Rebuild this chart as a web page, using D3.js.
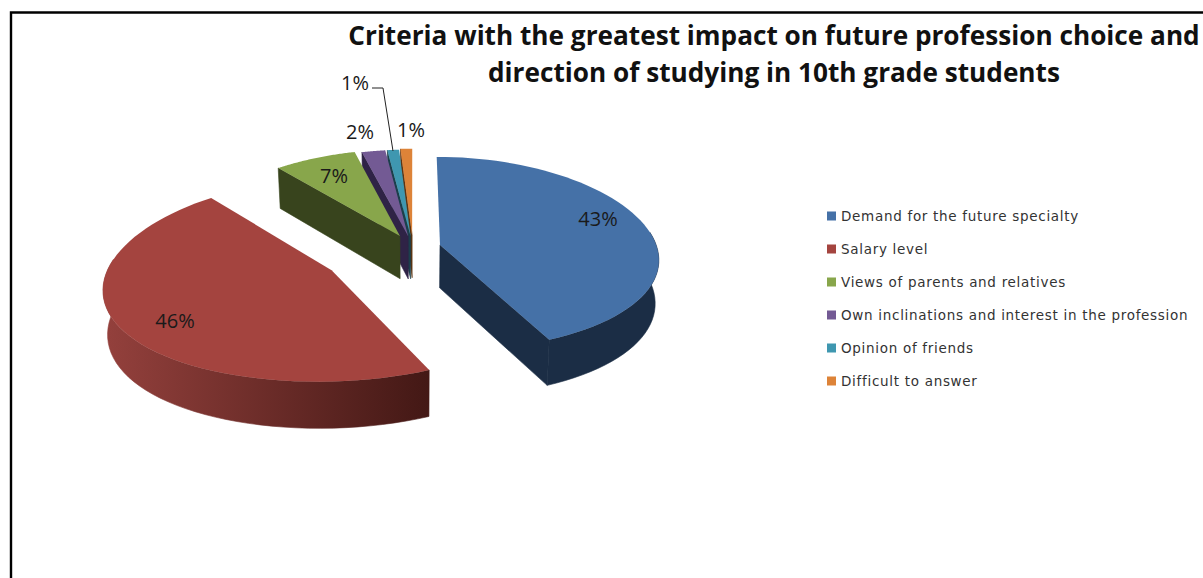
<!DOCTYPE html>
<html>
<head>
<meta charset="utf-8">
<script src="https://cdn.jsdelivr.net/npm/d3@7/dist/d3.min.js"></script>
<style>
  html, body { margin: 0; padding: 0; background: #fff; }
  svg { display: block; }
</style>
</head>
<body>
<svg id="chart" width="1203" height="578"></svg>
<script>
const categories = [
  "Demand for the future specialty",
  "Salary level",
  "Views of parents and relatives",
  "Own inclinations and interest in the profession",
  "Opinion of friends",
  "Difficult to answer"
];
const shares = [43, 46, 7, 2, 1, 1];
const titleLines = [
  "Criteria with the greatest impact on future profession choice and",
  "direction of studying in 10th grade students"
];
const explosion = [0.128, 0.43, 0.135, 0.12, 0.12, 0.13];
const topColors = ["#4571a7", "#a4443f", "#88a64b", "#735a94", "#3f97b0", "#dd8338"];
const sideColors = ["#1b2d45", "#4a1b17", "#38441d", "#2f2346", "#1b3f4c", "#5e3512"];
const drawOrder = [5, 4, 3, 2, 0, 1];

const labelSpots = [[598, 218], [175, 320], [334, 175], [360, 131], [355, 82], [411, 129]];
const leaderLine = [[372, 88], [383, 88], [393, 151]];

// Tilted-disc projection
const disc = { cx: 413, cy: 247.6, rx: 217, ry: 96.6, kx: 0.14, ky: 0.092 };
const depth = { base: 43, tilt: 3, shrink: 0.985 };

function project(x, y, z) {
  const sx = disc.cx + disc.rx * x / (1 - disc.kx * y);
  const sy = disc.cy + disc.ry * y / (1 - disc.ky * y);
  if (!z) return [sx, sy];
  return [disc.cx + (sx - disc.cx) * depth.shrink, sy + depth.base + depth.tilt * y];
}
// theta is clockwise from twelve o'clock, radius 0 is the slice's own apex
function slicePoint(theta, radius, offsetAngle, offset, z) {
  const x = radius * Math.sin(theta) + offset * Math.sin(offsetAngle);
  const y = -radius * Math.cos(theta) - offset * Math.cos(offsetAngle);
  return project(x, y, z);
}

const svg = d3.select("#chart");
const defs = svg.append("defs");
const line = d3.line();

const rimGradient = defs.append("linearGradient")
  .attr("id", "salaryRim")
  .attr("gradientUnits", "userSpaceOnUse")
  .attr("x1", 108).attr("x2", 430).attr("y1", 0).attr("y2", 0);
rimGradient.append("stop").attr("offset", 0).attr("stop-color", "#93403c");
rimGradient.append("stop").attr("offset", 1).attr("stop-color", "#431815");

// Frame around the chart area, running off the right and bottom edges
svg.append("path")
  .attr("d", line([[11, 578], [11, 12.5], [1203, 12.5]]))
  .attr("fill", "none").attr("stroke", "#000").attr("stroke-width", 2.4);

// Pie slices
const arcs = d3.pie().sort(null).value(d => d)(shares);
const sliceLayer = svg.append("g");

drawOrder.forEach(i => {
  const arc = arcs[i];
  const mid = (arc.startAngle + arc.endAngle) / 2;
  const e = explosion[i];
  const thetas = d3.range(0, 61).map(t => arc.startAngle + (arc.endAngle - arc.startAngle) * t / 60);
  const top = thetas.map(t => slicePoint(t, 1, mid, e, false));
  const bottom = thetas.map(t => slicePoint(t, 1, mid, e, true));
  const apexTop = slicePoint(0, 0, mid, e, false);
  const apexBottom = slicePoint(0, 0, mid, e, true);
  const g = sliceLayer.append("g");
  const side = i === 1 ? "url(#salaryRim)" : sideColors[i];

  // Radial walls, only those turned towards the viewer
  const wall = index => g.append("path")
    .attr("fill", sideColors[i]).attr("stroke", sideColors[i]).attr("stroke-width", 0.6)
    .attr("d", line([apexTop, top[index], bottom[index], apexBottom]) + "Z");
  if (-Math.sin(arc.startAngle) > 0) wall(0);
  if (Math.sin(arc.endAngle) > 0) wall(60);

  // Outer rim, front part of the circle only
  const front = thetas.map((t, k) => k).filter(k => Math.cos(thetas[k]) < 0.15);
  if (front.length > 1) {
    const rimTop = front.map(k => top[k]);
    const rimBottom = front.map(k => bottom[k]).reverse();
    g.append("path").attr("fill", side)
      .attr("stroke", side).attr("stroke-width", 0.6)
      .attr("d", line(rimTop.concat(rimBottom)) + "Z");
  }
  // Top face
  g.append("path").attr("fill", topColors[i])
    .attr("d", line([apexTop].concat(top)) + "Z");
});

// Percentage labels
const labelFont = "'Open Sans', sans-serif";
svg.append("g").selectAll("text").data(shares).join("text")
  .attr("x", (d, i) => labelSpots[i][0])
  .attr("y", (d, i) => labelSpots[i][1])
  .attr("text-anchor", "middle")
  .attr("dominant-baseline", "central")
  .attr("font-family", labelFont)
  .attr("font-size", 20)
  .attr("fill", "#1a1a1a")
  .text(d => d + "%");

svg.append("path")
  .attr("d", line(leaderLine))
  .attr("fill", "none").attr("stroke", "#222").attr("stroke-width", 1);

// Title
svg.append("g").selectAll("text").data(titleLines).join("text")
  .attr("x", 774)
  .attr("y", (d, i) => 45 + i * 37)
  .attr("text-anchor", "middle")
  .attr("font-family", "'Open Sans', sans-serif")
  .attr("font-weight", 700)
  .attr("font-size", 26.2)
  .attr("fill", "#111")
  .text(d => d);

// Legend
const legendY = d3.scalePoint().domain(categories).range([216, 381]);
const legend = svg.append("g").selectAll("g").data(categories).join("g")
  .attr("transform", d => `translate(827,${legendY(d)})`);
legend.append("rect")
  .attr("x", 0).attr("y", -4.5).attr("width", 9).attr("height", 9)
  .attr("fill", (d, i) => topColors[i]);
legend.append("text")
  .attr("x", 14)
  .attr("dominant-baseline", "central")
  .attr("font-family", "'DejaVu Sans', sans-serif")
  .attr("font-size", 13.5)
  .attr("letter-spacing", 0.7)
  .attr("fill", "#333")
  .text(d => d);
</script>
</body>
</html>
